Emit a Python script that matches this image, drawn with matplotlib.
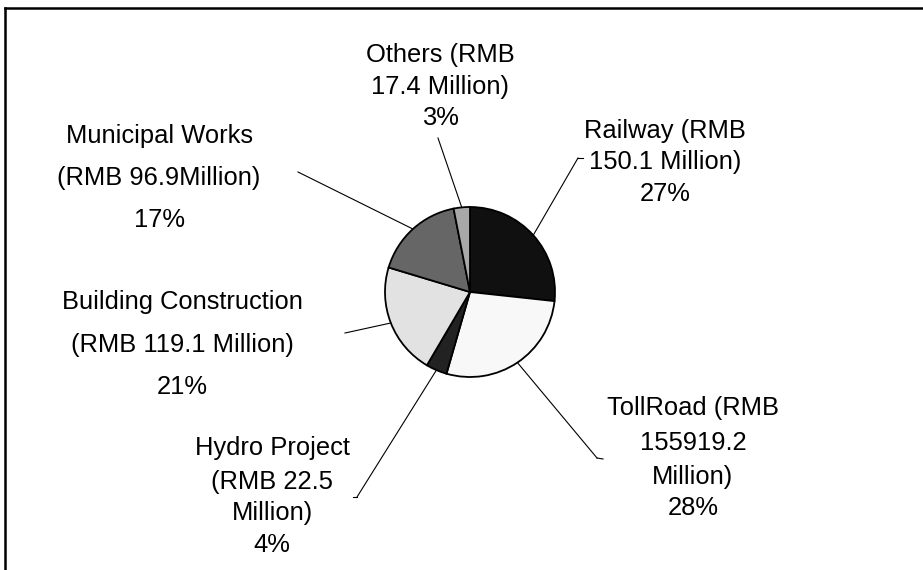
import numpy as np
import matplotlib
matplotlib.use("Agg")
import matplotlib.pyplot as plt

plt.rcParams['font.family'] = ['Liberation Sans', 'DejaVu Sans']

# data (RMB million), clockwise from 12 o'clock
sectors = ['Railway', 'TollRoad', 'Hydro Project', 'Building Construction',
           'Municipal Works', 'Others']
amounts = [150.1, 155.9, 22.5, 119.1, 96.9, 17.4]
colors = ['#101010', '#f8f8f8', '#222222', '#e2e2e2', '#666666', '#a8a8a8']

label_lines = [
    ['Railway (RMB', '150.1 Million)', '27%'],
    ['TollRoad (RMB', '155919.2', 'Million)', '28%'],
    ['Hydro Project', '(RMB 22.5', 'Million)', '4%'],
    ['Building Construction', '(RMB 119.1 Million)', '21%'],
    ['Municipal Works', '(RMB 96.9Million)', '17%'],
    ['Others (RMB', '17.4 Million)', '3%'],
]

W, H = 923, 570
def Y(p):
    return H - p

# layout (pixels from top-left)
label_x = [665, 693, 272, 182, 159, 440]
label_y = [[131, 162, 194], [408, 443, 477, 508], [448, 482, 513, 545],
           [302, 345, 387], [136, 178, 220], [55, 87, 118]]
leader_end = [(578, 158), (597, 458), (357, 497), (345, 333), (298, 172), (438, 138)]
leader_tick = [(583, 158), (603, 459), (353, 497), None, None, None]

cx, cy, r = 470, 292, 85

fig = plt.figure(figsize=(9.23, 5.70), dpi=100)
ax = fig.add_axes([0, 0, 1, 1])

wedges, _ = ax.pie(amounts, colors=colors, startangle=90, counterclock=False,
                   center=(cx, Y(cy)), radius=r,
                   wedgeprops=dict(edgecolor='black', linewidth=1.3))
ax.set_xlim(0, W)
ax.set_ylim(0, H)
ax.set_aspect('equal')
ax.axis('off')

for i, w in enumerate(wedges):
    mid = np.deg2rad((w.theta1 + w.theta2) / 2)
    x0 = cx + r * np.cos(mid)
    y0 = Y(cy) + r * np.sin(mid)
    ex, ey = leader_end[i]
    ax.plot([x0, ex], [y0, Y(ey)], color='black', lw=0.8)
    if leader_tick[i] is not None:
        tx, ty = leader_tick[i]
        ax.plot([ex, tx], [Y(ey), Y(ty)], color='black', lw=0.8)
    for line, ly in zip(label_lines[i], label_y[i]):
        ax.text(label_x[i], Y(ly), line, ha='center', va='center',
                fontsize=18.4, color='black')

# chart area frame (top and left edges)
ax.plot([5, W], [Y(8), Y(8)], color='black', lw=1.8, clip_on=False)
ax.plot([5, 5], [Y(8), 0], color='black', lw=1.8, clip_on=False)

fig.savefig('out.png', dpi=100)
